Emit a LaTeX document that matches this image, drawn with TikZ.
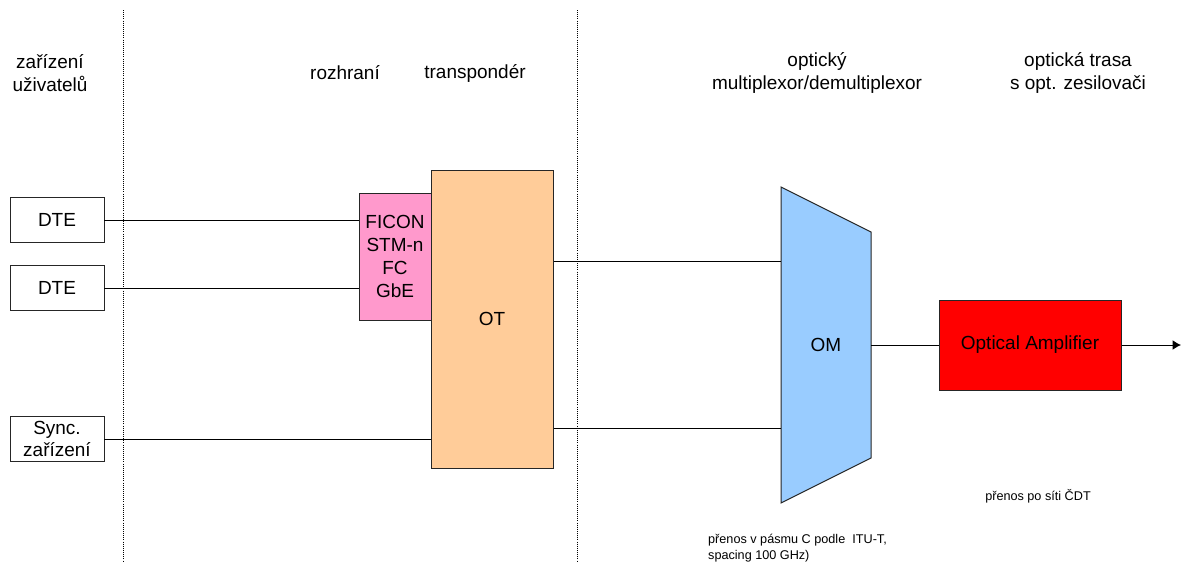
\documentclass[tikz,border=0pt]{standalone}
\usepackage{fontspec}
\setmainfont{Liberation Sans}
\usetikzlibrary{arrows.meta}
\definecolor{rozhrpink}{HTML}{FF99CC}
\definecolor{otpeach}{HTML}{FFCC99}
\definecolor{omblue}{HTML}{99CCFF}
\definecolor{oared}{HTML}{FF0000}

\begin{document}
\begin{tikzpicture}[x=0.025cm,y=-0.025cm,line width=0.7pt,
  blok/.style={draw=black!85,align=center,inner sep=0pt,font=\fontsize{13.5}{16.2}\selectfont},
  popis/.style={align=center,font=\fontsize{13.5}{16}\selectfont},
  pozn/.style={align=left,font=\fontsize{9}{11.5}\selectfont}]
  \def\px{0.025cm}
  \useasboundingbox (0,0) rectangle (1181,562);
  % delici cary
  \foreach \x in {123,577} {
    \draw[densely dotted,line width=0.5pt] (\x,10) -- (\x,562);
  }
  % nadpisy sloupcu
  \node[popis] (t1) at (50,73) {zařízení\\uživatelů};
  \node[popis] (t2) at (345,73) {rozhraní};
  \node[popis] (t3) at (475,73) {transpondér};
  \node[popis] (t4) at (817,73) {optický\\multiplexor/demultiplexor};
  \node[popis] (t5) at (1078,73) {optická trasa\\s opt. zesilovači};
  % zarizeni uzivatelu
  \node[blok,minimum width={94*\px},minimum height={45*\px}] (dte1) at (57,220) {DTE};
  \node[blok,minimum width={94*\px},minimum height={45*\px}] (dte2) at (57,288) {DTE};
  \node[blok,minimum width={94*\px},minimum height={45*\px}] (sync) at (57,439) {Sync.\\zařízení};
  % rozhrani a transponder
  \node[blok,fill=rozhrpink,minimum width={72*\px},minimum height={127*\px}] (rozhr) at (395,256.5) {FICON\\STM-n\\FC\\GbE};
  \node[blok,fill=otpeach,minimum width={122*\px},minimum height={298*\px}] (ot) at (492,319) {OT};
  % multiplexor
  \draw[draw=black!85,fill=omblue] (781,187) -- (871,232) -- (871,458) -- (781,503) -- cycle;
  \node[popis] (om) at (826,345) {OM};
  \coordinate (omin1) at (781,261);
  \coordinate (omin2) at (781,428);
  \coordinate (omout) at (871,345);
  % zesilovac
  \node[blok,fill=oared,minimum width={182*\px},minimum height={90*\px}] (oa) at (1030,345) {Optical Amplifier};
  \coordinate (konec) at (1181,345);
  % spoje
  \draw (dte1.east) -- (dte1.east -| rozhr.west);
  \draw (dte2.east) -- (dte2.east -| rozhr.west);
  \draw (sync.east) -- (sync.east -| ot.west);
  \draw (omin1 -| ot.east) -- (omin1);
  \draw (omin2 -| ot.east) -- (omin2);
  \draw (omout) -- (oa.west);
  \draw[-{Latex[length=6pt,width=7pt]}] (oa.east) -- (konec);
  % poznamky
  \node[pozn] (p1) at (1038,496) {přenos po síti ČDT};
  \node[pozn,anchor=west] (p2) at (703,548) {přenos v pásmu C podle\ \ ITU-T,\\spacing 100 GHz)};
\end{tikzpicture}
\end{document}
